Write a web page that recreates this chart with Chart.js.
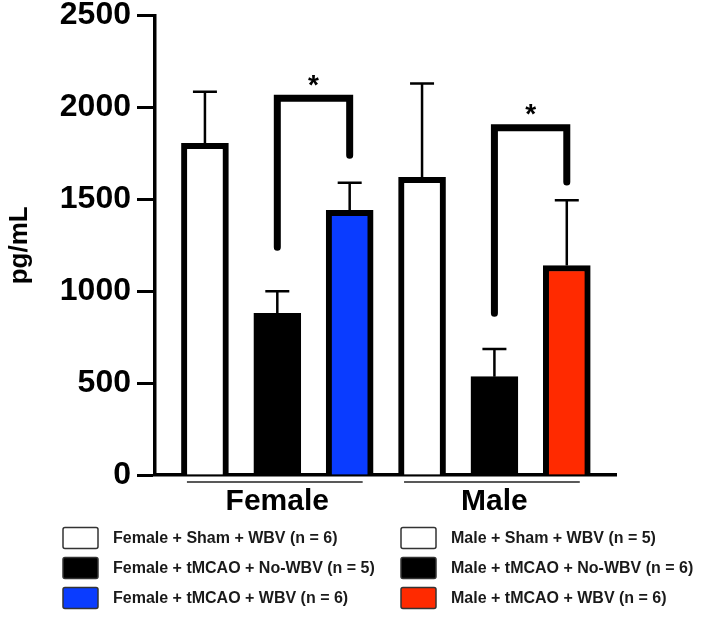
<!DOCTYPE html>
<html>
<head>
<meta charset="utf-8">
<script src="https://cdn.jsdelivr.net/npm/chart.js@4/dist/chart.umd.min.js"></script>
<style>
  body { margin: 0; background: #fff; }
  #wrap { width: 705px; height: 622px; }
</style>
</head>
<body>
<div id="wrap"><canvas id="canvas" width="705" height="622"></canvas></div>
<script>
// Data (pg/mL)
const groups = ["Female", "Male"];
const labels = [
  "Female + Sham + WBV (n = 6)",
  "Female + tMCAO + No-WBV (n = 5)",
  "Female + tMCAO + WBV (n = 6)",
  "Male + Sham + WBV (n = 5)",
  "Male + tMCAO + No-WBV (n = 6)",
  "Male + tMCAO + WBV (n = 6)"
];
const barPos = [1, 2, 3, 4, 5, 6];
const means = [1805, 880, 1440, 1620, 535, 1140];
const sem = [280, 120, 150, 510, 150, 355];
const colors = ["#ffffff", "#000000", "#0a3cff", "#ffffff", "#000000", "#ff2a00"];
const yTicks = [0, 500, 1000, 1500, 2000, 2500];

// significance brackets: [left bar, right bar, top, left end, right end]
const brackets = [
  [2, 3, 2050, 1240, 1740],
  [5, 6, 1890, 880, 1595]
];

const FONT = "'Liberation Sans', Arial, Helvetica, sans-serif";

// error bars, brackets, group labels and the legend
const extras = {
  id: "extras",
  afterDatasetsDraw(chart) {
    const ctx = chart.ctx;
    const x = chart.scales.x, y = chart.scales.y;
    ctx.save();
    ctx.strokeStyle = "#000";
    ctx.lineWidth = 2.5;
    means.forEach((m, i) => {
      const px = x.getPixelForValue(barPos[i]);
      const top = y.getPixelForValue(m + sem[i]);
      ctx.beginPath();
      ctx.moveTo(px, y.getPixelForValue(m));
      ctx.lineTo(px, top);
      ctx.moveTo(px - 12, top);
      ctx.lineTo(px + 12, top);
      ctx.stroke();
    });

    ctx.lineWidth = 7;
    ctx.lineCap = "round";
    ctx.lineJoin = "miter";
    brackets.forEach(b => {
      const x1 = x.getPixelForValue(b[0]), x2 = x.getPixelForValue(b[1]);
      const yt = y.getPixelForValue(b[2]);
      ctx.beginPath();
      ctx.moveTo(x1, y.getPixelForValue(b[3]));
      ctx.lineTo(x1, yt);
      ctx.lineTo(x2, yt);
      ctx.lineTo(x2, y.getPixelForValue(b[4]));
      ctx.stroke();
      ctx.fillStyle = "#000";
      ctx.font = "bold 28px " + FONT;
      ctx.textAlign = "center";
      ctx.textBaseline = "middle";
      ctx.fillText("*", (x1 + x2) / 2, yt - 12);
    });
    ctx.restore();
  },
  afterDraw(chart) {
    const ctx = chart.ctx;
    const x = chart.scales.x;
    const base = chart.chartArea.bottom;
    ctx.save();
    // group underlines + names
    groups.forEach((g, gi) => {
      const a = x.getPixelForValue(barPos[gi * 3]) - 18;
      const b = x.getPixelForValue(barPos[gi * 3 + 2]) + 13;
      ctx.strokeStyle = "#222";
      ctx.lineWidth = 1.6;
      ctx.beginPath();
      ctx.moveTo(a, base + 7);
      ctx.lineTo(b, base + 7);
      ctx.stroke();
      ctx.fillStyle = "#000";
      ctx.font = "bold 30px " + FONT;
      ctx.textAlign = "center";
      ctx.textBaseline = "middle";
      ctx.fillText(g, (x.getPixelForValue(barPos[gi * 3]) + x.getPixelForValue(barPos[gi * 3 + 2])) / 2, base + 27);
    });
    // legend in two columns
    const colX = [63, 401];
    labels.forEach((t, i) => {
      const col = Math.floor(i / 3), row = i % 3;
      const bx = colX[col], cy = 538 + row * 30;
      ctx.fillStyle = colors[i];
      ctx.strokeStyle = "#333";
      ctx.lineWidth = 1.5;
      ctx.beginPath();
      ctx.roundRect(bx, cy - 10.5, 35, 21, 2);
      ctx.fill();
      ctx.stroke();
      ctx.fillStyle = "#1a1a1a";
      ctx.font = "bold 16px " + FONT;
      ctx.textAlign = "left";
      ctx.textBaseline = "middle";
      ctx.fillText(t, bx + 50, cy + 1);
    });
    ctx.restore();
  }
};

new Chart(document.getElementById("canvas").getContext("2d"), {
  type: "bar",
  data: {
    datasets: [{
      data: barPos.map((p, i) => ({ x: p, y: means[i] })),
      backgroundColor: colors,
      borderColor: "#000",
      borderWidth: 6,
      barThickness: 47
    }]
  },
  options: {
    responsive: false,
    animation: false,
    devicePixelRatio: 1,
    layout: { padding: { left: 0, top: 12, right: 89, bottom: 0 }, autoPadding: false },
    plugins: { legend: { display: false }, tooltip: { enabled: false } },
    scales: {
      x: {
        type: "linear",
        offset: false,
        min: 0.31,
        max: 6.68,
        grid: { display: false },
        ticks: { display: false },
        border: { display: true, color: "#000", width: 3.5 },
        afterFit: s => { s.height = 147; }
      },
      y: {
        min: 0,
        max: 2500,
        afterBuildTicks: s => { s.ticks = yTicks.map(v => ({ value: v })); },
        grid: { drawOnChartArea: false, drawTicks: true, tickLength: 18, tickWidth: 3, tickColor: "#000" },
        border: { display: true, color: "#000", width: 3.5 },
        ticks: { color: "#000", padding: 6, callback: v => String(v), font: { family: FONT, size: 32, weight: "bold", lineHeight: 0.6 } },
        title: { display: true, text: "pg/mL", color: "#000", padding: { top: 4 }, font: { family: FONT, size: 26, weight: "bold" } },
        afterFit: s => { s.width = 155; }
      }
    }
  },
  plugins: [extras]
});
</script>
</body>
</html>
